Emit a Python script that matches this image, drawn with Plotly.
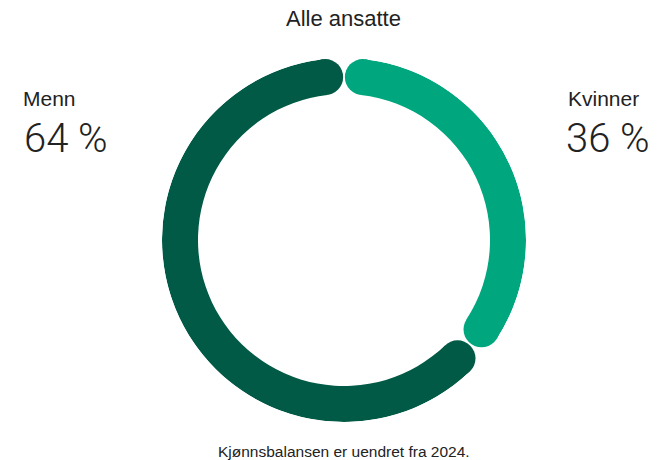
import plotly.graph_objects as go

labels = ["Kvinner", "Menn"]
shares = [36, 64]
colors = ["#00A77E", "#005A45"]
title = "Alle ansatte"
footnote = "Kjønnsbalansen er uendret fra 2024."

W, H = 664, 460
cx, cy = 344, 240          # ring centre (px)
R_out, R_in = 182, 146     # ring radii (px)
gap_deg = 6.6              # angular trim at each end (room for round caps)

mid_r = (R_out + R_in) / 2
thick = R_out - R_in

fig = go.Figure()
start = 0.0
for lab, val, col in zip(labels, shares, colors):
    span = val / sum(shares) * 360.0
    a0, a1 = start + gap_deg, start + span - gap_deg
    fig.add_trace(go.Barpolar(
        r=[thick], base=[R_in], theta=[(a0 + a1) / 2], width=[a1 - a0],
        marker=dict(color=col, line=dict(width=0)), hoverinfo="skip", showlegend=False))
    fig.add_trace(go.Scatterpolar(
        r=[mid_r, mid_r], theta=[a0, a1], mode="markers",
        marker=dict(size=thick, color=col, line=dict(width=0)),
        hoverinfo="skip", showlegend=False))
    start += span

fig.update_layout(
    width=W, height=H, margin=dict(l=0, r=0, t=0, b=0),
    paper_bgcolor="white", plot_bgcolor="white",
    polar=dict(
        domain=dict(x=[(cx - R_out) / W, (cx + R_out) / W],
                    y=[(H - cy - R_out) / H, (H - cy + R_out) / H]),
        bgcolor="white", hole=0, bargap=0,
        radialaxis=dict(range=[0, R_out], visible=False),
        angularaxis=dict(rotation=90, direction="clockwise", visible=False),
    ),
    font=dict(family="Liberation Sans, Arial, sans-serif", color="#222222"),
)

SANS = "Liberation Sans, Arial, sans-serif"
LIGHT = "Roboto, sans-serif"
ann = [
    dict(text=title, x=343, y=18, xa="center", size=22, weight=400, fam=SANS),
    dict(text=labels[1], x=21, y=98.5, xa="left", size=21, weight=400, fam=SANS),
    dict(text=f"{shares[1]} %", x=22, y=138, xa="left", size=40, weight=300, fam=LIGHT),
    dict(text=labels[0], x=566, y=98.5, xa="left", size=21, weight=400, fam=SANS),
    dict(text=f"{shares[0]} %", x=564, y=138, xa="left", size=40, weight=300, fam=LIGHT),
    dict(text=footnote, x=344, y=451, xa="center", size=15.5, weight=400, fam=SANS),
]
for a in ann:
    fig.add_annotation(text=a["text"], x=a["x"] / W, y=1 - a["y"] / H, xref="paper", yref="paper",
                       xanchor=a["xa"], yanchor="middle", showarrow=False,
                       font=dict(family=a["fam"], size=a["size"], weight=a["weight"], color="#222222"))

fig.write_html("out.html", config={"displayModeBar": False},
               post_script="document.body.style.margin='0';")
